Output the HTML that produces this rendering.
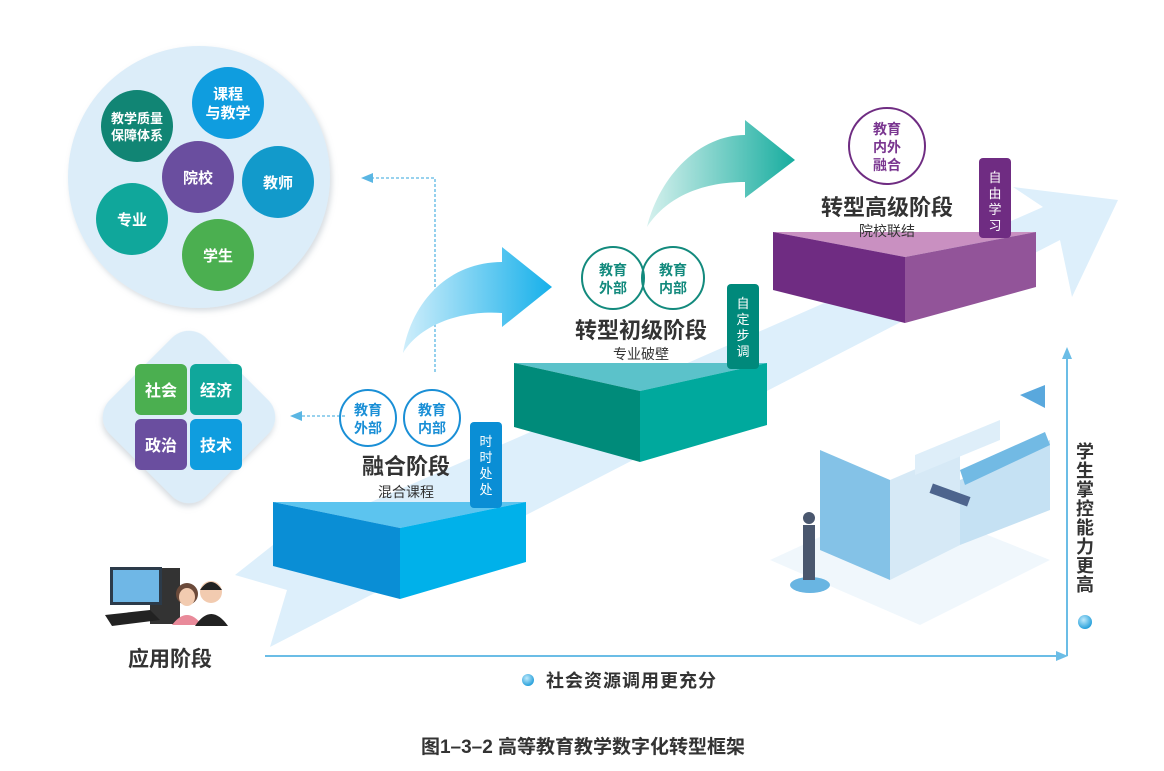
<!DOCTYPE html>
<html><head><meta charset="utf-8"><style>
html,body{margin:0;padding:0;background:#fff;}
svg{display:block;}
text{font-family:"Liberation Sans","Noto Sans CJK SC",sans-serif;}
</style></head><body>
<svg width="1164" height="771" viewBox="0 0 1164 771" xmlns="http://www.w3.org/2000/svg">
<defs>
<linearGradient id="gb" x1="0" y1="0" x2="1" y2="0"><stop offset="0" stop-color="#cfeefb"/><stop offset="1" stop-color="#16b0ea"/></linearGradient>
<linearGradient id="gt" x1="0" y1="0" x2="1" y2="0"><stop offset="0" stop-color="#d6f1ee"/><stop offset="1" stop-color="#17ad9f"/></linearGradient>
<radialGradient id="dot" cx="0.4" cy="0.35" r="0.7"><stop offset="0" stop-color="#bfeafc"/><stop offset="1" stop-color="#1a9ad8"/></radialGradient>
<filter id="sh" x="-20%" y="-20%" width="140%" height="140%"><feDropShadow dx="2" dy="3" stdDeviation="3" flood-color="#8a9aa8" flood-opacity="0.35"/></filter>
</defs>

<polygon points="273,545 1043,207 1013,187 1118,200 1072,297 1060,240 270,647 287,590 235,575" fill="#ddeffb"/>

<g opacity="0.85">
<polygon points="770,560 900,500 1050,560 920,625" fill="#eef6fc"/>
<polygon points="820,450 890,480 890,580 820,550" fill="#6fb8e3"/>
<polygon points="890,480 960,450 960,545 890,580" fill="#cfe6f5"/>
<polygon points="960,480 1050,440 1050,510 960,545" fill="#bcdcf1"/>
<polygon points="960,470 1045,432 1050,445 965,485" fill="#5aaee0"/>
<polygon points="915,455 1000,420 1000,440 915,475" fill="#d9ecf8"/>
<polygon points="1020,395 1045,385 1045,408" fill="#3d9ad8"/>
<ellipse cx="810" cy="585" rx="20" ry="8" fill="#4fa9dd"/>
<rect x="803" y="525" width="12" height="55" fill="#2b3a55"/>
<circle cx="809" cy="518" r="6" fill="#2b3a55"/>
<rect x="930" y="490" width="40" height="10" fill="#2e4a7a" transform="rotate(20 950 495)"/>
</g>

<circle cx="199" cy="177" r="131" fill="#dcedf9" filter="url(#sh)"/>
<g font-weight="bold" fill="#fff" text-anchor="middle" font-size="15">
<circle cx="228" cy="103" r="36" fill="#0f9ddf"/><text x="228" y="99">课程</text><text x="228" y="118">与教学</text>
<circle cx="137" cy="126" r="36" fill="#118574"/><text x="137" y="123" font-size="13">教学质量</text><text x="137" y="140" font-size="13">保障体系</text>
<circle cx="198" cy="177" r="36" fill="#6a4e9f"/><text x="198" y="183">院校</text>
<circle cx="278" cy="182" r="36" fill="#129acb"/><text x="278" y="188">教师</text>
<circle cx="132" cy="219" r="36" fill="#10a79b"/><text x="132" y="225">专业</text>
<circle cx="218" cy="255" r="36" fill="#4baf50"/><text x="218" y="261">学生</text>
</g>

<rect x="121" y="349" width="136" height="136" rx="24" fill="#dcedf9" transform="rotate(45 189 417)" filter="url(#sh)"/>
<g font-weight="bold" fill="#fff" text-anchor="middle" font-size="16">
<rect x="135" y="364" width="52" height="51" rx="6" fill="#4baf50"/><text x="161" y="396">社会</text>
<rect x="190" y="364" width="52" height="51" rx="6" fill="#10a79b"/><text x="216" y="396">经济</text>
<rect x="135" y="419" width="52" height="51" rx="6" fill="#6a4e9f"/><text x="161" y="451">政治</text>
<rect x="190" y="419" width="52" height="51" rx="6" fill="#0f9ddf"/><text x="216" y="451">技术</text>
</g>

<g stroke="#5ab6e3" stroke-width="1.3" stroke-dasharray="3,2" fill="none">
<polyline points="435,372 435,178 372,178"/>
<line x1="345" y1="416" x2="300" y2="416"/>
</g>
<polygon points="361,178 373,173 373,183" fill="#5ab6e3"/>
<polygon points="290,416 302,411 302,421" fill="#5ab6e3"/>

<g>
<rect x="150" y="568" width="30" height="56" fill="#333"/>
<rect x="110" y="567" width="52" height="38" fill="#2c3b4a"/>
<rect x="113" y="570" width="46" height="32" fill="#6fb7e6"/>
<polygon points="105,615 150,610 160,620 112,626" fill="#222"/>
<circle cx="187" cy="594" r="11" fill="#6b4a3a"/>
<ellipse cx="187" cy="597" rx="8" ry="9" fill="#f2cbb0"/>
<path d="M172 625 Q187 605 202 625Z" fill="#e98a9a"/>
<circle cx="211" cy="592" r="11" fill="#f2cbb0"/>
<path d="M200 590 Q211 574 222 590 Z" fill="#222"/>
<path d="M195 626 Q211 602 228 626Z" fill="#222"/>
</g>
<text x="170" y="666" font-size="21" font-weight="bold" fill="#333" text-anchor="middle">应用阶段</text>

<line x1="265" y1="656" x2="1058" y2="656" stroke="#6bbde6" stroke-width="2"/>
<polygon points="1068,656 1056,651 1056,661" fill="#6bbde6"/>
<line x1="1067" y1="656" x2="1067" y2="358" stroke="#6bbde6" stroke-width="2"/>
<polygon points="1067,347 1062,359 1072,359" fill="#6bbde6"/>
<circle cx="528" cy="680" r="6" fill="url(#dot)"/>
<text x="546" y="687" font-size="18" letter-spacing="1" font-weight="bold" fill="#333">社会资源调用更充分</text>
<g font-size="18" font-weight="bold" fill="#333" text-anchor="middle">
<text x="1085" y="458">学</text><text x="1085" y="477">生</text><text x="1085" y="496">掌</text><text x="1085" y="515">控</text><text x="1085" y="534">能</text><text x="1085" y="553">力</text><text x="1085" y="572">更</text><text x="1085" y="591">高</text>
</g>
<circle cx="1085" cy="622" r="7" fill="url(#dot)"/>

<path d="M403,353 C412,300 450,262 502,262 L502,247 L552,287 L502,327 L502,313 C460,310 420,325 403,353Z" fill="url(#gb)"/>
<path d="M647,227 C660,175 700,135 745,135 L745,120 L795,160 L745,198 L745,182 C705,182 668,195 647,227Z" fill="url(#gt)"/>

<polygon points="273,502 526,502 400,528" fill="#5cc4ef"/>
<polygon points="273,502 400,528 400,599 273,566" fill="#0a8ed5"/>
<polygon points="400,528 526,502 526,562 400,599" fill="#00b1ea"/>
<rect x="470" y="422" width="32" height="86" rx="4" fill="#0a8ed5"/>
<g fill="#fff" font-size="13" text-anchor="middle"><text x="486" y="446">时</text><text x="486" y="462">时</text><text x="486" y="478">处</text><text x="486" y="494">处</text></g>
<g fill="none" stroke="#1a8fd6" stroke-width="2"><circle cx="368" cy="418" r="28"/><circle cx="432" cy="418" r="28"/></g>
<g fill="#1a8fd6" font-weight="bold" font-size="14" text-anchor="middle">
<text x="368" y="415">教育</text><text x="368" y="433">外部</text><text x="432" y="415">教育</text><text x="432" y="433">内部</text></g>
<text x="406" y="474" font-size="22" font-weight="bold" fill="#333" text-anchor="middle">融合阶段</text>
<text x="406" y="497" font-size="14" fill="#333" text-anchor="middle">混合课程</text>

<polygon points="514,363 767,363 640,391" fill="#5bc2ca"/>
<polygon points="514,363 640,391 640,462 514,427" fill="#008b7a"/>
<polygon points="640,391 767,363 767,425 640,462" fill="#00a99d"/>
<rect x="727" y="284" width="32" height="85" rx="4" fill="#00897b"/>
<g fill="#fff" font-size="13" text-anchor="middle"><text x="743" y="308">自</text><text x="743" y="324">定</text><text x="743" y="340">步</text><text x="743" y="356">调</text></g>
<g fill="none" stroke="#138a7d" stroke-width="2"><circle cx="613" cy="278" r="31"/><circle cx="673" cy="278" r="31"/></g>
<g fill="#138a7d" font-weight="bold" font-size="14" text-anchor="middle">
<text x="613" y="275">教育</text><text x="613" y="293">外部</text><text x="673" y="275">教育</text><text x="673" y="293">内部</text></g>
<text x="641" y="338" font-size="22" font-weight="bold" fill="#333" text-anchor="middle">转型初级阶段</text>
<text x="641" y="359" font-size="14" fill="#333" text-anchor="middle">专业破壁</text>

<polygon points="773,232 1036,232 905,257" fill="#c990c1"/>
<polygon points="773,232 905,257 905,323 773,290" fill="#6f2c82"/>
<polygon points="905,257 1036,232 1036,287 905,323" fill="#925499"/>
<rect x="979" y="158" width="32" height="80" rx="4" fill="#6f2c82"/>
<g fill="#fff" font-size="13" text-anchor="middle"><text x="995" y="182">自</text><text x="995" y="198">由</text><text x="995" y="214">学</text><text x="995" y="230">习</text></g>
<circle cx="887" cy="146" r="38" fill="none" stroke="#6f2c82" stroke-width="2"/>
<g fill="#7a3690" font-weight="bold" font-size="14" text-anchor="middle">
<text x="887" y="134">教育</text><text x="887" y="152">内外</text><text x="887" y="170">融合</text></g>
<text x="887" y="215" font-size="22" font-weight="bold" fill="#333" text-anchor="middle">转型高级阶段</text>
<text x="887" y="236" font-size="14" fill="#333" text-anchor="middle">院校联结</text>

<text x="583" y="753" font-size="19" font-weight="bold" fill="#333" text-anchor="middle">图1–3–2 高等教育教学数字化转型框架</text>
</svg>
</body></html>
